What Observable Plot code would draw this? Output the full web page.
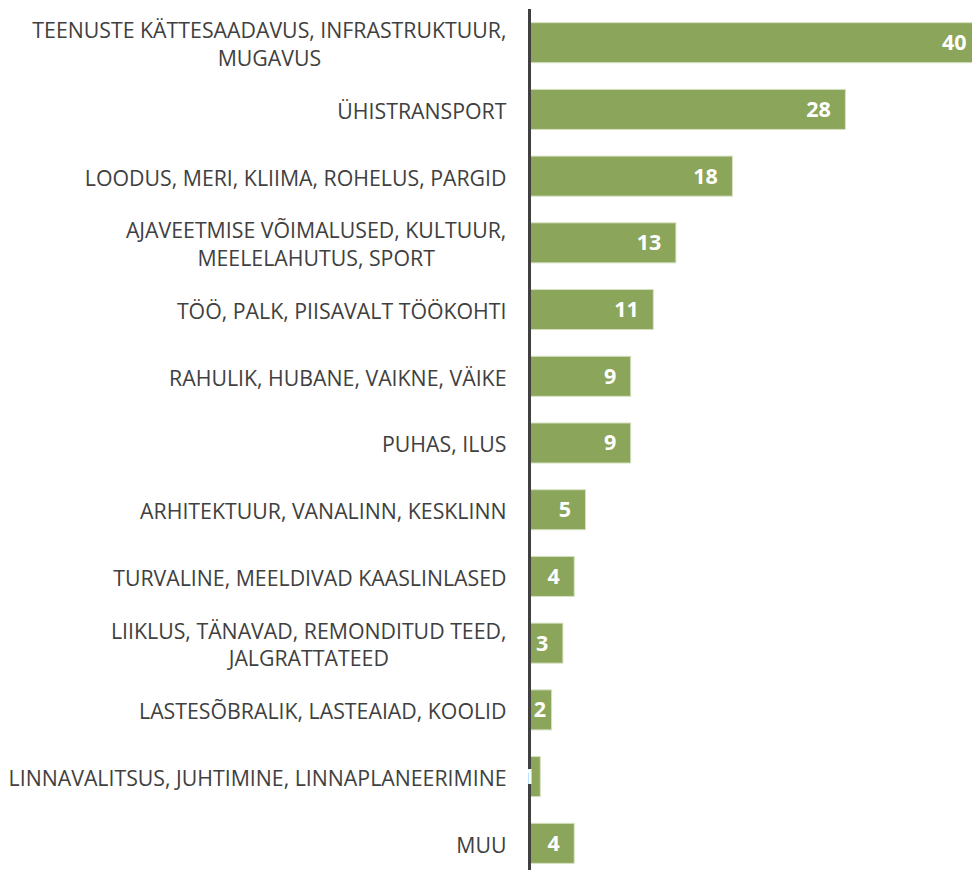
<!DOCTYPE html>
<html>
<head>
<meta charset="utf-8">
<script src="https://cdn.jsdelivr.net/npm/d3@7"></script>
<script src="https://cdn.jsdelivr.net/npm/@observablehq/plot@0.6"></script>
<style>
  html, body { margin: 0; padding: 0; background: #ffffff; overflow: hidden; }
  svg { overflow: hidden; }
</style>
</head>
<body>
<div id="chart"></div>
<script>
const categories = [
  "TEENUSTE KÄTTESAADAVUS, INFRASTRUKTUUR,\nMUGAVUS",
  "ÜHISTRANSPORT",
  "LOODUS, MERI, KLIIMA, ROHELUS, PARGID",
  "AJAVEETMISE VÕIMALUSED, KULTUUR,\nMEELELAHUTUS, SPORT",
  "TÖÖ, PALK, PIISAVALT TÖÖKOHTI",
  "RAHULIK, HUBANE, VAIKNE, VÄIKE",
  "PUHAS, ILUS",
  "ARHITEKTUUR, VANALINN, KESKLINN",
  "TURVALINE, MEELDIVAD KAASLINLASED",
  "LIIKLUS, TÄNAVAD, REMONDITUD TEED,\nJALGRATTATEED",
  "LASTESÕBRALIK, LASTEAIAD, KOOLID",
  "LINNAVALITSUS, JUHTIMINE, LINNAPLANEERIMINE",
  "MUU"
];
const values = [40, 28, 18, 13, 11, 9, 9, 5, 4, 3, 2, 1, 4];

const data = categories.map((c, i) => ({category: c, value: values[i]}));
const bigLabels = data.filter(d => d.value >= 3);
const smallLabels = data.filter(d => d.value < 3);

const chart = Plot.plot({
  width: 972,
  height: 870,
  marginLeft: 529,
  marginRight: -9,
  marginTop: 16,
  marginBottom: 0,
  style: {fontFamily: "'Open Sans', sans-serif", background: "#ffffff", overflow: "hidden"},
  x: {domain: [0, 40], axis: null},
  y: {domain: categories, paddingInner: 0.4, paddingOuter: 0.1, round: false, label: null},
  marks: [
    Plot.barX(data, {y: "category", x: "value", fill: "#8BA55A", stroke: "#d6e1c2", strokeWidth: 1}),
    Plot.ruleX([0], {stroke: "#404040", strokeWidth: 3, insetTop: -7}),
    Plot.text(bigLabels, {y: "category", x: "value", text: d => String(d.value), textAnchor: "end", dx: -15,
      fill: "#ffffff", fontWeight: "bold", fontSize: 21.5}),
    Plot.text(smallLabels, {y: "category", x: "value", text: d => String(d.value), textAnchor: "end", dx: -6,
      fill: "#ffffff", fontWeight: "bold", fontSize: 21.5}),
    Plot.axisY({tickSize: 0, tickPadding: 23, fontSize: 21.3, fill: "#404040", lineHeight: 1.3, label: null})
  ]
});

document.getElementById("chart").append(chart);

// centre the lines of two-line category labels within their block (right-aligned block)
chart.querySelectorAll("[aria-label='y-axis tick label'] text").forEach(t => {
  const spans = t.querySelectorAll("tspan");
  if (spans.length > 1) {
    const w = t.getBBox().width;
    t.setAttribute("text-anchor", "middle");
    spans.forEach(s => s.setAttribute("x", -w / 2));
  }
});
</script>
</body>
</html>
